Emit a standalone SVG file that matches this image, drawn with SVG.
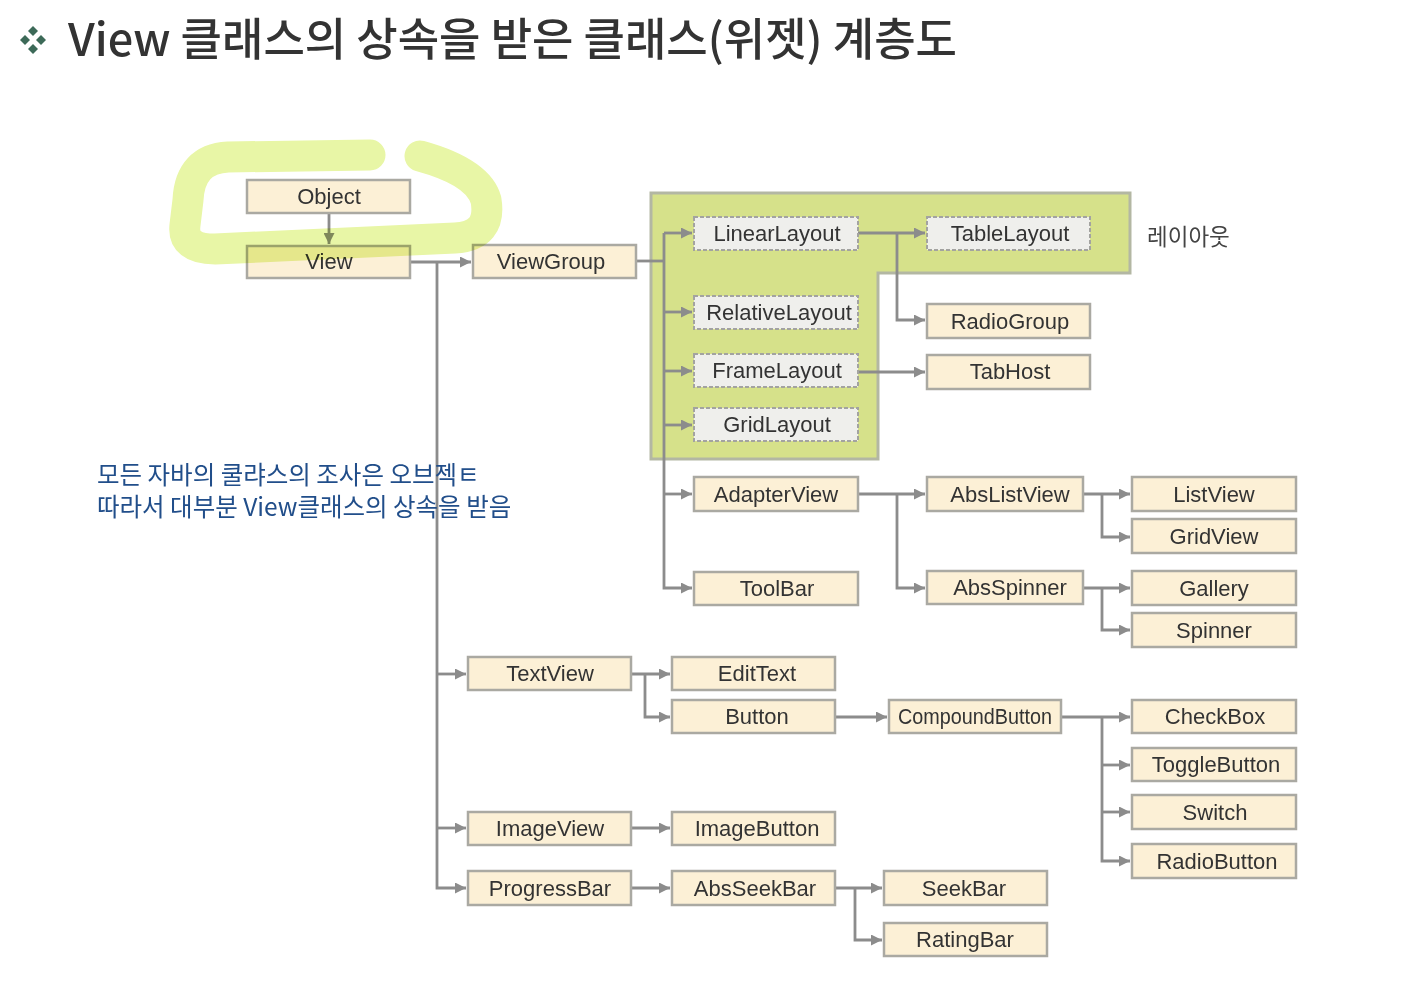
<svg xmlns="http://www.w3.org/2000/svg" width="1428" height="996" viewBox="0 0 1428 996">
<style>
.n rect{fill:#fcf0d6;stroke:#aaa9a2;stroke-width:2.5}
.d rect{fill:#efefec;stroke:#a3a3a0;stroke-width:2;stroke-dasharray:4 2}
.n text,.d text{font-family:"Liberation Sans",Arial,sans-serif;font-size:22px;fill:#333;text-anchor:middle}
.c path{fill:none;stroke:#8c8c8c;stroke-width:2.8}
.title{font-family:"Noto Sans CJK KR","Noto Sans",sans-serif;font-size:45px;font-weight:500;fill:#333}
.note{font-family:"Noto Sans CJK KR","Noto Sans",sans-serif;font-size:24.5px;fill:#214e8a}
.lab{font-family:"Noto Sans CJK KR","Noto Sans",sans-serif;font-size:22.5px;fill:#444}
</style>
<defs>
<marker id="ah" viewBox="0 0 10 10" refX="10" refY="5" markerWidth="13" markerHeight="11" markerUnits="userSpaceOnUse" orient="auto">
<path d="M0,0 L10,5 L0,10 z" fill="#8c8c8c"/>
</marker>
</defs>
<rect width="1428" height="996" fill="#ffffff"/>
<g id="title">
<g fill="#3d6a58">
<polygon points="33,26 38,31 33,36 28,31"/>
<polygon points="25,35 30,40 25,45 20,40"/>
<polygon points="41,35 46,40 41,45 36,40"/>
<polygon points="33,44 38,49 33,54 28,49"/>
</g>
<text class="title" x="68" y="56">View 클래스의 상속을 받은 클래스(위젯) 계층도</text>
</g>
<g id="layout-area">
<path d="M651 193 H1130 V273 H878 V459 H651 Z" fill="#d6e18a" stroke="#b3b7a3" stroke-width="3"/>
<text class="lab" x="1147" y="245">레이아웃</text>
</g>
<g id="connectors" class="c">
<path d="M329 213 V244" marker-end="url(#ah)"/>
<path d="M410 262 H471" marker-end="url(#ah)"/>
<path d="M437 262 V888 H466" marker-end="url(#ah)"/>
<path d="M437 674 H466" marker-end="url(#ah)"/>
<path d="M437 828 H466" marker-end="url(#ah)"/>
<path d="M636 261 H664"/>
<path d="M664 233 V588 H692" marker-end="url(#ah)"/>
<path d="M664 233 H692" marker-end="url(#ah)"/>
<path d="M664 312 H692" marker-end="url(#ah)"/>
<path d="M664 371 H692" marker-end="url(#ah)"/>
<path d="M664 425 H692" marker-end="url(#ah)"/>
<path d="M664 494 H692" marker-end="url(#ah)"/>
<path d="M858 233 H925" marker-end="url(#ah)"/>
<path d="M897 233 V320 H925" marker-end="url(#ah)"/>
<path d="M858 372 H925" marker-end="url(#ah)"/>
<path d="M858 494 H925" marker-end="url(#ah)"/>
<path d="M897 494 V588 H925" marker-end="url(#ah)"/>
<path d="M1083 494 H1130" marker-end="url(#ah)"/>
<path d="M1102 494 V537 H1130" marker-end="url(#ah)"/>
<path d="M1083 588 H1130" marker-end="url(#ah)"/>
<path d="M1102 588 V630 H1130" marker-end="url(#ah)"/>
<path d="M631 674 H670" marker-end="url(#ah)"/>
<path d="M645 674 V717 H670" marker-end="url(#ah)"/>
<path d="M835 717 H887" marker-end="url(#ah)"/>
<path d="M1061 717 H1130" marker-end="url(#ah)"/>
<path d="M1102 717 V861 H1130" marker-end="url(#ah)"/>
<path d="M1102 765 H1130" marker-end="url(#ah)"/>
<path d="M1102 812 H1130" marker-end="url(#ah)"/>
<path d="M631 828 H670" marker-end="url(#ah)"/>
<path d="M631 888 H670" marker-end="url(#ah)"/>
<path d="M835 888 H882" marker-end="url(#ah)"/>
<path d="M855 888 V940 H882" marker-end="url(#ah)"/>
</g>
<g id="Object" class="n"><rect x="247" y="180" width="163" height="33"/><text x="329" y="204">Object</text></g>
<g id="View" class="n"><rect x="247" y="246" width="163" height="32"/><text x="329" y="269">View</text></g>
<g id="ViewGroup" class="n"><rect x="473" y="245" width="163" height="33"/><text x="551" y="269">ViewGroup</text></g>
<g id="LinearLayout" class="d"><rect x="694" y="217" width="164" height="33"/><text x="777" y="241">LinearLayout</text></g>
<g id="TableLayout" class="d"><rect x="927" y="217" width="163" height="33"/><text x="1010" y="241">TableLayout</text></g>
<g id="RelativeLayout" class="d"><rect x="694" y="296" width="164" height="33"/><text x="779" y="320">RelativeLayout</text></g>
<g id="FrameLayout" class="d"><rect x="694" y="354" width="164" height="33"/><text x="777" y="378">FrameLayout</text></g>
<g id="GridLayout" class="d"><rect x="694" y="408" width="164" height="33"/><text x="777" y="432">GridLayout</text></g>
<g id="RadioGroup" class="n"><rect x="927" y="304" width="163" height="34"/><text x="1010" y="329">RadioGroup</text></g>
<g id="TabHost" class="n"><rect x="927" y="355" width="163" height="34"/><text x="1010" y="379">TabHost</text></g>
<g id="AdapterView" class="n"><rect x="694" y="477" width="164" height="34"/><text x="776" y="502">AdapterView</text></g>
<g id="ToolBar" class="n"><rect x="694" y="572" width="164" height="33"/><text x="777" y="596">ToolBar</text></g>
<g id="AbsListView" class="n"><rect x="927" y="477" width="156" height="34"/><text x="1010" y="502">AbsListView</text></g>
<g id="AbsSpinner" class="n"><rect x="927" y="571" width="156" height="33"/><text x="1010" y="595">AbsSpinner</text></g>
<g id="ListView" class="n"><rect x="1132" y="477" width="164" height="34"/><text x="1214" y="502">ListView</text></g>
<g id="GridView" class="n"><rect x="1132" y="519" width="164" height="34"/><text x="1214" y="544">GridView</text></g>
<g id="Gallery" class="n"><rect x="1132" y="571" width="164" height="34"/><text x="1214" y="596">Gallery</text></g>
<g id="Spinner" class="n"><rect x="1132" y="613" width="164" height="34"/><text x="1214" y="638">Spinner</text></g>
<g id="TextView" class="n"><rect x="468" y="657" width="163" height="33"/><text x="550" y="681">TextView</text></g>
<g id="EditText" class="n"><rect x="672" y="657" width="163" height="33"/><text x="757" y="681">EditText</text></g>
<g id="Button" class="n"><rect x="672" y="700" width="163" height="33"/><text x="757" y="724">Button</text></g>
<g id="CompoundButton" class="n"><rect x="889" y="700" width="172" height="33"/><text x="975" y="724" textLength="154" lengthAdjust="spacingAndGlyphs">CompoundButton</text></g>
<g id="CheckBox" class="n"><rect x="1132" y="700" width="164" height="33"/><text x="1215" y="724">CheckBox</text></g>
<g id="ToggleButton" class="n"><rect x="1132" y="748" width="164" height="33"/><text x="1216" y="772">ToggleButton</text></g>
<g id="Switch" class="n"><rect x="1132" y="795" width="164" height="34"/><text x="1215" y="820">Switch</text></g>
<g id="RadioButton" class="n"><rect x="1132" y="844" width="164" height="34"/><text x="1217" y="869">RadioButton</text></g>
<g id="ImageView" class="n"><rect x="468" y="812" width="163" height="33"/><text x="550" y="836">ImageView</text></g>
<g id="ImageButton" class="n"><rect x="672" y="812" width="163" height="33"/><text x="757" y="836">ImageButton</text></g>
<g id="ProgressBar" class="n"><rect x="468" y="871" width="163" height="34"/><text x="550" y="896">ProgressBar</text></g>
<g id="AbsSeekBar" class="n"><rect x="672" y="871" width="163" height="34"/><text x="755" y="896">AbsSeekBar</text></g>
<g id="SeekBar" class="n"><rect x="884" y="871" width="163" height="34"/><text x="964" y="896">SeekBar</text></g>
<g id="RatingBar" class="n"><rect x="884" y="923" width="163" height="33"/><text x="965" y="947">RatingBar</text></g>
<g id="note">
<text class="note" x="97" y="484">모든 자바의 쿨랴스의 조사은 오브젝ㅌ</text>
<text class="note" x="97" y="516">따라서 대부분 View클래스의 상속을 받음</text>
</g>
<g id="highlight" style="mix-blend-mode:multiply">
<path d="M370 155 L228 157 Q190 159 188 200 L185 225 Q182 249 215 249 L455 238 Q492 236 486 200 Q478 172 420 156" fill="none" stroke="#e8f6a6" stroke-width="31" stroke-linecap="round" stroke-linejoin="round"/>
</g>
</svg>
